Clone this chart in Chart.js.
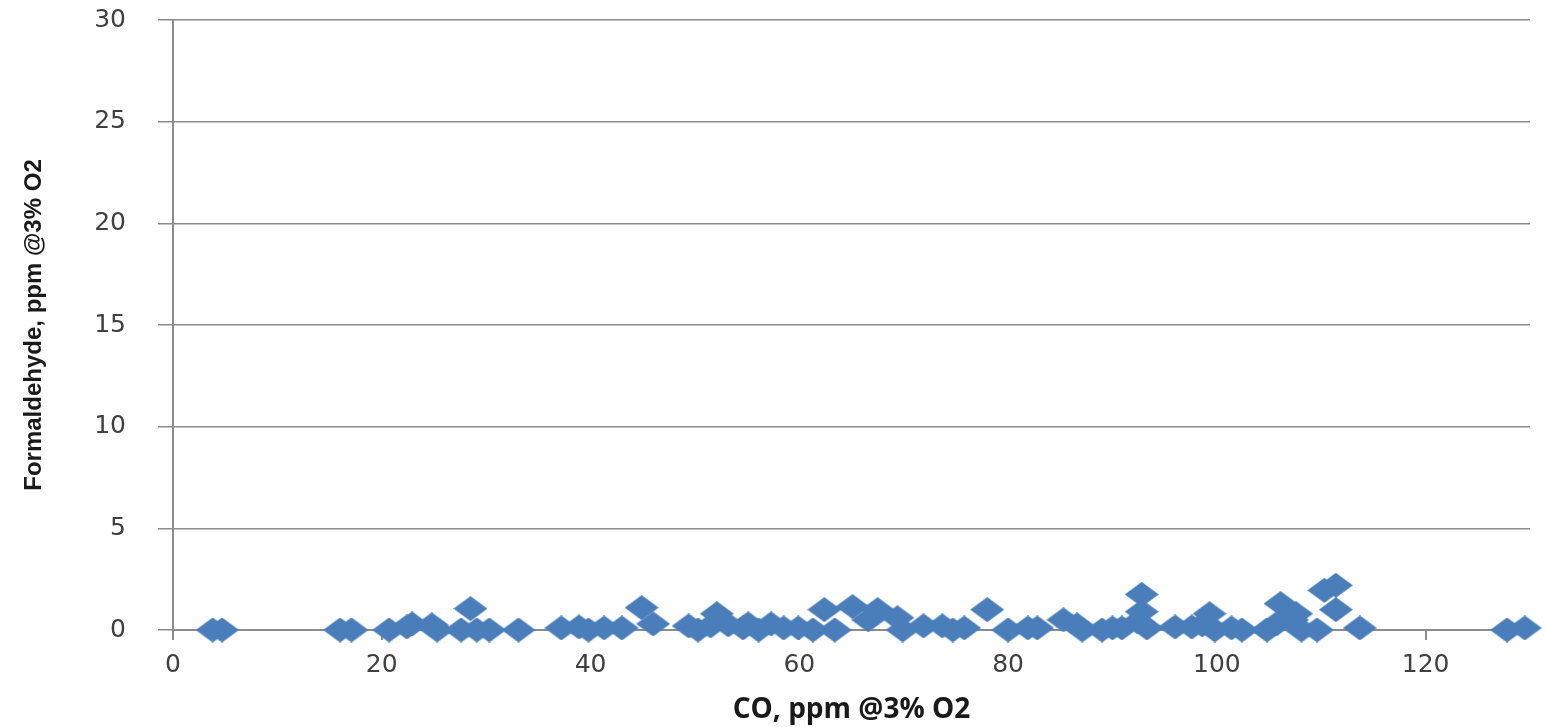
<!DOCTYPE html>
<html>
<head>
<meta charset="utf-8">
<script src="https://cdn.jsdelivr.net/npm/chart.js@4.4.0/dist/chart.umd.min.js"></script>
<style>
  html, body { margin: 0; padding: 0; background: #fff; }
  #wrap { width: 1546px; height: 727px; position: relative; }
</style>
</head>
<body>
<div id="wrap"><canvas id="scatterChart"></canvas></div>
<script>
// CO values (x) and formaldehyde values (y)
const coX = [3.8, 4.7, 16.0, 17.1, 20.7, 22.4, 22.9, 24.8, 25.3, 27.6, 28.5, 29.1, 30.3, 33.1, 37.2, 38.9, 39.8, 41.3, 43.0, 44.9,
  46.0, 49.4, 50.3, 51.5, 52.1, 53.2, 54.6, 55.1, 56.1, 57.3, 58.5, 59.9, 61.3, 62.4, 63.4, 65.1, 66.6, 67.5, 69.4, 69.9,
  71.9, 73.7, 74.7, 75.8, 78.0, 80.0, 81.9, 82.8, 85.3, 86.6, 87.1, 89.0, 90.0, 90.9, 92.4, 92.8, 92.8, 93.3, 96.0, 97.6,
  98.6, 99.3, 99.8, 101.4, 102.4, 104.8, 105.7, 106.1, 107.2, 107.6, 108.1, 109.6, 110.3, 111.4, 111.4, 113.7, 127.8, 129.5];
const hchoY = [0, 0, 0, 0, 0, 0.15, 0.3, 0.25, 0, 0, 1.05, 0, 0, 0, 0.1, 0.15, 0, 0.1, 0.1, 1.1,
  0.3, 0.2, 0, 0.2, 0.8, 0.25, 0.1, 0.3, 0, 0.3, 0.1, 0.1, 0, 1.0, 0, 1.15, 0.5, 1.0, 0.6, 0,
  0.2, 0.2, 0, 0.1, 1.0, 0, 0.1, 0.1, 0.5, 0.25, 0, 0, 0.1, 0.1, 0.4, 1.75, 0.9, 0.1, 0.15, 0.15,
  0.25, 0.8, 0, 0.1, 0, 0, 0.3, 1.3, 0.5, 0.8, 0, 0, 1.95, 2.2, 1.0, 0.1, 0, 0.1];
const xTickStep = 20;
const yTickStep = 5;

const points = coX.map((x, i) => ({ x: x, y: hchoY[i] }));

// Wide diamond marker (the picture is stretched sideways)
const marker = document.createElement("canvas");
marker.width = 34;
marker.height = 25;
const mctx = marker.getContext("2d");
mctx.fillStyle = "#4A7EBB";
mctx.beginPath();
mctx.moveTo(0, 12.5);
mctx.lineTo(17, 0);
mctx.lineTo(34, 12.5);
mctx.lineTo(17, 25);
mctx.closePath();
mctx.fill();

const gridGray = "#8c8c8c";
const tickFont = { family: "DejaVu Sans, Verdana, sans-serif", size: 25 };

new Chart(document.getElementById("scatterChart"), {
  type: "scatter",
  data: {
    datasets: [{
      data: points,
      pointStyle: marker,
      pointRadius: 12,
      pointHoverRadius: 12,
      clip: false,
    }],
  },
  options: {
    responsive: true,
    maintainAspectRatio: false,
    animation: false,
    layout: { padding: { left: 0, right: 16, top: 20, bottom: 0 } },
    plugins: { legend: { display: false }, tooltip: { enabled: false } },
    scales: {
      x: {
        type: "linear",
        min: 0,
        max: 130,
        afterFit: (scale) => { scale.height = 97; },
        border: { display: true, color: gridGray, width: 2 },
        grid: { color: "transparent", tickColor: gridGray, drawTicks: true, tickLength: 10, lineWidth: 2 },
        ticks: { stepSize: xTickStep, includeBounds: false, color: "#404040", font: tickFont, padding: 10, maxRotation: 0 },
        title: {
          display: true,
          text: "CO, ppm @3% O2",
          color: "#1a1a1a",
          font: { family: "Open Sans, DejaVu Sans, sans-serif", size: 28, weight: "bold" },
          padding: { top: 9, bottom: 0 },
        },
      },
      y: {
        type: "linear",
        min: 0,
        max: 30,
        afterFit: (scale) => {
          scale.width = 173;
          // the wide label gap should not push the plot down
          scale.paddingTop = 0;
          scale.paddingBottom = 0;
        },
        border: { display: true, color: gridGray, width: 2 },
        grid: { color: gridGray, tickColor: gridGray, drawTicks: true, tickLength: 15, lineWidth: 1.5 },
        ticks: { stepSize: yTickStep, color: "#404040", font: tickFont, padding: 32 },
        title: {
          display: true,
          text: "Formaldehyde, ppm @3% O2",
          color: "#1a1a1a",
          font: { family: "Liberation Sans, Arial, sans-serif", size: 24, weight: "bold" },
          padding: { top: 20, bottom: 0 },
        },
      },
    },
  },
});
</script>
</body>
</html>
